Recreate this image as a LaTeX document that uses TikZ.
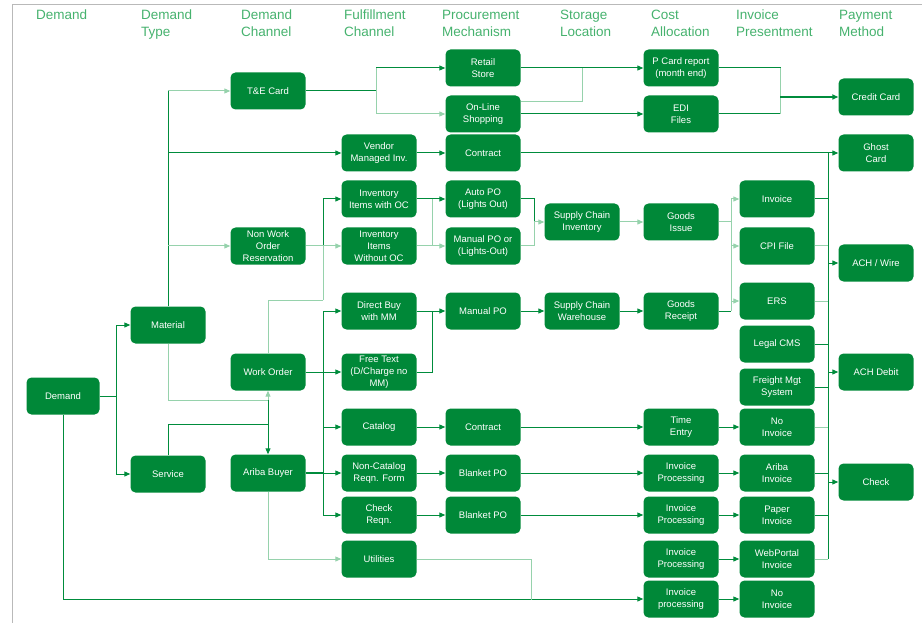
\documentclass[tikz,border=0pt]{standalone}
\usepackage{fontspec}
\setmainfont{Liberation Sans}
\usetikzlibrary{arrows.meta}
\definecolor{boxg}{RGB}{0,136,56}
\definecolor{lineg}{RGB}{0,140,60}
\definecolor{paleg}{RGB}{150,210,172}
\definecolor{headg}{RGB}{70,178,110}
\tikzset{
  box/.style={fill=boxg, rounded corners=5pt, minimum width=75pt, minimum height=37pt,
    text=white, align=center, inner sep=1pt, font=\fontsize{9.5}{12}\selectfont},
  hdr/.style={anchor=north west, align=left, inner sep=0pt, text=headg, font=\fontsize{13.5}{17}\selectfont},
  dk/.style={draw=lineg, line width=1pt},
  pl/.style={draw=paleg, line width=1pt},
  arr/.style={-{Triangle[length=6pt,width=5pt]}}
}
\begin{document}
\begin{tikzpicture}[x=1pt,y=-1pt]
\useasboundingbox (0,0) rectangle (922,623);
\draw[gray!55, line width=1pt] (12,623) -- (12,5) -- (922,5);

% headers
\node[hdr] (h1) at (36,10) {Demand};
\node[hdr] (h2) at (141,10) {Demand\\Type};
\node[hdr] (h3) at (241,10) {Demand\\Channel};
\node[hdr] (h4) at (344,10) {Fulfillment\\Channel};
\node[hdr] (h5) at (442,10) {Procurement\\Mechanism};
\node[hdr] (h6) at (560,10) {Storage\\Location};
\node[hdr] (h7) at (651,10) {Cost\\Allocation};
\node[hdr] (h8) at (736,10) {Invoice\\Presentment};
\node[hdr] (h9) at (839,10) {Payment\\Method};

% column A
\node[box, minimum width=73pt] (dem) at (63,396) {Demand};
% column B
\node[box] (mat) at (168,325) {Material};
\node[box] (svc) at (168,474) {Service};
% column C
\node[box] (te) at (268,91) {T\&E Card};
\node[box] (nwo) at (268,246) {Non Work\\Order\\Reservation};
\node[box] (wo) at (268,372) {Work Order};
\node[box] (ariba) at (268,473) {Ariba Buyer};
% column D
\node[box] (vmi) at (379,153) {Vendor\\Managed Inv.};
\node[box] (iwoc) at (379,199) {Inventory\\Items with OC};
\node[box] (iwooc) at (379,246) {Inventory\\Items\\Without OC};
\node[box] (dbuy) at (379,311) {Direct Buy\\with MM};
\node[box] (ftext) at (379,372) {Free Text\\(D/Charge no\\MM)};
\node[box] (cat) at (379,427) {Catalog};
\node[box] (noncat) at (379,473) {Non-Catalog\\Reqn. Form};
\node[box] (chk) at (379,515) {Check\\Reqn.};
\node[box] (util) at (379,559) {Utilities};
% column E
\node[box] (retail) at (483,68) {Retail\\Store};
\node[box] (online) at (483,114) {On-Line\\Shopping};
\node[box] (contr1) at (483,153) {Contract};
\node[box] (autopo) at (483,199) {Auto PO\\(Lights Out)};
\node[box] (manpo2) at (483,246) {Manual PO or\\(Lights-Out)};
\node[box] (manpo) at (483,311) {Manual PO};
\node[box] (contr2) at (483,427) {Contract};
\node[box] (bpo1) at (483,473) {Blanket PO};
\node[box] (bpo2) at (483,515) {Blanket PO};
% column F
\node[box] (sci) at (582,222) {Supply Chain\\Inventory};
\node[box] (scw) at (582,311) {Supply Chain\\Warehouse};
% column G
\node[box] (pcard) at (681,68) {P Card report\\(month end)};
\node[box] (edi) at (681,114) {EDI\\Files};
\node[box] (gi) at (681,222) {Goods\\Issue};
\node[box] (gr) at (681,311) {Goods\\Receipt};
\node[box] (te2) at (681,427) {Time\\Entry};
\node[box] (ip1) at (681,473) {Invoice\\Processing};
\node[box] (ip2) at (681,515) {Invoice\\Processing};
\node[box] (ip3) at (681,559) {Invoice\\Processing};
\node[box] (ip4) at (681,599) {Invoice\\processing};
% column H
\node[box] (inv) at (777,199) {Invoice};
\node[box] (cpi) at (777,246) {CPI File};
\node[box] (ers) at (777,301) {ERS};
\node[box] (legal) at (777,344) {Legal CMS};
\node[box] (freight) at (777,387) {Freight Mgt\\System};
\node[box] (noinv1) at (777,427) {No\\Invoice};
\node[box] (arinv) at (777,473) {Ariba\\Invoice};
\node[box] (paper) at (777,515) {Paper\\Invoice};
\node[box] (web) at (777,559) {WebPortal\\Invoice};
\node[box] (noinv2) at (777,599) {No\\Invoice};
% column I
\node[box] (cc) at (876,97) {Credit Card};
\node[box] (ghost) at (876,153) {Ghost\\Card};
\node[box] (achw) at (876,263) {ACH / Wire};
\node[box] (achd) at (876,372) {ACH Debit};
\node[box] (check) at (876,482) {Check};

% junction coordinates
\coordinate (jdem) at (116,396);
\coordinate (jwo) at (268,400);
\coordinate (jsv) at (268,424);
\coordinate (jd1) at (323,246);
\coordinate (jd2) at (323,300);
\coordinate (jab) at (323,473);
\coordinate (jte) at (376,91);
\coordinate (jinv) at (432,199);
\coordinate (jdb) at (432,311);
\coordinate (jpo) at (534,222);
\coordinate (jut) at (531,600);
\coordinate (jol) at (582,102);
\coordinate (jcc) at (780,97);
\coordinate (jgi) at (731,222);
\coordinate (jbus) at (828,153);

% Demand
\draw[dk] (dem.east) -- (jdem);
\draw[dk,arr] (jdem) |- (mat.west);
\draw[dk,arr] (jdem) |- (svc.west);
\draw[dk,arr] (dem.south) |- (ip4.west);

% Material
\draw[dk] (mat.north) -- (mat.north |- te.west);
\draw[pl,arr] (mat.north |- te.west) -- (te.west);
\draw[dk,arr] (mat.north |- vmi.west) -- (vmi.west);
\draw[pl,arr] (mat.north |- nwo.west) -- (nwo.west);
\draw[pl] (mat.south) |- (jwo);
\draw[pl,arr] (jwo) -- (wo.south);

% Service
\draw[dk] (svc.north) |- (jsv);
\draw[dk] (jsv) -- (jwo);
\draw[dk,arr] (jsv) -- (ariba.north);

% Non work order / work order
\draw[pl] (wo.north) |- (jd2);
\draw[pl] (jd2) -- (jd1);
\draw[dk] (nwo.east) -- (jd1);
\draw[dk,arr] (jd1) |- (iwoc.west);
\draw[pl,arr] (nwo.east) -- (iwooc.west);
\draw[dk,arr] (wo.east) -- (ftext.west);

% Ariba buyer
\draw[dk, line width=1.6pt] (ariba.east) -- (jab);
\draw[dk] (jab |- dbuy.west) -- (jab |- chk.west);
\draw[dk,arr] (jab |- dbuy.west) -- (dbuy.west);
\draw[dk,arr] (jab |- cat.west) -- (cat.west);
\draw[dk,arr] (jab) -- (noncat.west);
\draw[dk,arr] (jab |- chk.west) -- (chk.west);
\draw[pl,arr] (ariba.south) |- (util.west);
\draw[pl] (util.east) -| (jut);

% T&E card
\draw[dk] (te.east) -- (jte);
\draw[pl] (jte |- retail.west) -- (jte |- online.west);
\draw[dk,arr] (jte |- retail.west) -- (retail.west);
\draw[pl,arr] (jte |- online.west) -- (online.west);

% fulfilment to procurement
\draw[dk,arr] (vmi.east) -- (contr1.west);
\draw[dk,arr] (iwoc.east) -- (autopo.west);
\draw[pl,arr] (iwooc.east) -- (manpo2.west);
\draw[pl] (jinv) -- (jinv |- manpo2.west);
\draw[dk,arr] (dbuy.east) -- (manpo.west);
\draw[dk] (ftext.east) -| (jdb);
\draw[dk,arr] (cat.east) -- (contr2.west);
\draw[dk,arr] (noncat.east) -- (bpo1.west);
\draw[dk,arr] (chk.east) -- (bpo2.west);

% procurement onward
\draw[dk,arr] (retail.east) -- (pcard.west);
\draw[pl] (online.east |- jol) -- (jol);
\draw[pl] (jol) -- (jol |- retail.east);
\draw[dk,arr] (online.east) -- (edi.west);
\draw[dk,arr] (contr1.east) -- (ghost.west);
\draw[dk] (autopo.east) -| (jpo);
\draw[pl] (manpo2.east) -| (jpo);
\draw[pl,arr] (jpo) -- (sci.west);
\draw[pl,arr] (sci.east) -- (gi.west);
\draw[dk,arr] (manpo.east) -- (scw.west);
\draw[dk,arr] (scw.east) -- (gr.west);
\draw[dk,arr] (contr2.east) -- (te2.west);
\draw[dk,arr] (bpo1.east) -- (ip1.west);
\draw[dk,arr] (bpo2.east) -- (ip2.west);

% cost allocation to invoice
\draw[dk] (pcard.east) -| (jcc);
\draw[dk] (edi.east) -| (jcc);
\draw[pl] (jcc |- pcard.east) -- (jcc |- edi.east);
\draw[dk,arr,line width=1.6pt] (jcc) -- (cc.west);
\draw[pl] (gi.east) -- (jgi);
\draw[pl] (jgi |- inv.west) -- (jgi |- gr.east);
\draw[dk] (gr.east) -- (jgi |- gr.east);
\draw[pl,arr] (jgi |- inv.west) -- (inv.west);
\draw[pl,arr] (jgi |- cpi.west) -- (cpi.west);
\draw[pl,arr] (jgi |- ers.west) -- (ers.west);
\draw[dk,arr] (te2.east) -- (noinv1.west);
\draw[dk,arr] (ip1.east) -- (arinv.west);
\draw[dk,arr] (ip2.east) -- (paper.west);
\draw[dk,arr] (ip3.east) -- (web.west);
\draw[dk,arr] (ip4.east) -- (noinv2.west);

% payment bus
\draw[dk] (jbus) -- (jbus |- web.east);
\draw[dk] (inv.east) -- (jbus |- inv.east);
\draw[pl] (cpi.east) -- (jbus |- cpi.east);
\draw[pl] (ers.east) -- (jbus |- ers.east);
\draw[dk] (legal.east) -- (jbus |- legal.east);
\draw[dk] (freight.east) -- (jbus |- freight.east);
\draw[pl] (noinv1.east) -- (jbus |- noinv1.east);
\draw[dk] (arinv.east) -- (jbus |- arinv.east);
\draw[dk] (paper.east) -- (jbus |- paper.east);
\draw[pl] (web.east) -- (jbus |- web.east);
\draw[dk,arr] (jbus |- achw.west) -- (achw.west);
\draw[dk,arr] (jbus |- achd.west) -- (achd.west);
\draw[dk,arr] (jbus |- check.west) -- (check.west);
\end{tikzpicture}
\end{document}
